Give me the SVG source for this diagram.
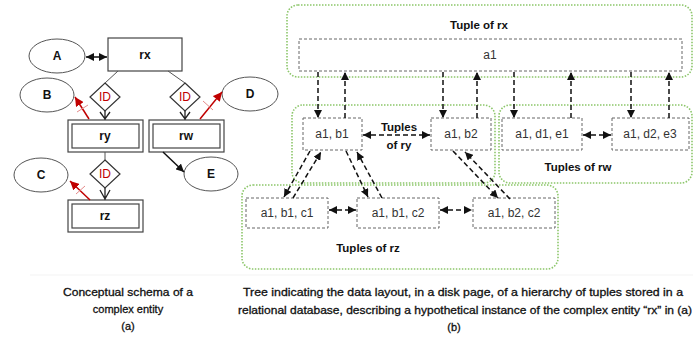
<svg xmlns="http://www.w3.org/2000/svg" width="693" height="337" viewBox="0 0 693 337">
<style>
text{font-family:"Liberation Sans",Arial,sans-serif;}
.lbl{font-size:12px;font-weight:bold;fill:#111;text-anchor:middle;}
.id{font-size:12px;fill:#c00000;text-anchor:middle;}
.tup{font-size:12px;fill:#333;text-anchor:middle;}
.cap{font-size:11px;fill:#111;stroke:#111;stroke-width:0.3;text-anchor:middle;}
.ell{fill:#fff;stroke:#555;stroke-width:1;}
.box{fill:#fff;stroke:#444;stroke-width:1.2;}
.dia{fill:#fff;stroke:#333;stroke-width:1.2;}
.thin{stroke:#555;stroke-width:1;fill:none;}
.grp{fill:none;stroke:#8cc66a;stroke-width:1.6;stroke-dasharray:1.5,1.5;}
.tbox{fill:#fff;stroke:#666;stroke-width:1;stroke-dasharray:3,2;}
.dash{stroke:#111;stroke-width:1.5;stroke-dasharray:5,3;fill:none;}
.red{stroke:#c00000;stroke-width:1.5;fill:none;}
.tick{stroke:#e58a8a;stroke-width:1;}
</style>
<defs>
<marker id="ah" viewBox="0 0 10 10" refX="10" refY="5" markerWidth="8" markerHeight="8" markerUnits="userSpaceOnUse" orient="auto-start-reverse"><path d="M0,0 L10,5 L0,10 z" fill="#111"/></marker>
<marker id="ahr" viewBox="0 0 10 10" refX="10" refY="5" markerWidth="9" markerHeight="9" markerUnits="userSpaceOnUse" orient="auto"><path d="M0,0 L10,5 L0,10 z" fill="#c00000"/></marker>
</defs>

<!-- Left ER diagram -->
<g id="A"><ellipse class="ell" cx="57" cy="56" rx="28" ry="17"/><text class="lbl" x="57" y="60">A</text></g>
<g id="rx"><rect class="box" x="108" y="38" width="74" height="33"/><text class="lbl" x="145" y="59">rx</text></g>
<g id="B"><ellipse class="ell" cx="47" cy="95" rx="27" ry="17"/><text class="lbl" x="47" y="99">B</text></g>
<g id="D"><ellipse class="ell" cx="250" cy="94" rx="28" ry="17"/><text class="lbl" x="250" y="98">D</text></g>
<g id="id1"><polygon class="dia" points="105,83 120,97 105,111 90,97"/><text class="id" x="105" y="101">ID</text></g>
<g id="id2"><polygon class="dia" points="185,83 200,97 185,111 170,97"/><text class="id" x="185" y="101">ID</text></g>
<g id="ry"><rect class="box" x="68" y="120" width="75" height="32"/><rect class="box" x="72" y="124" width="67" height="24"/><text class="lbl" x="105" y="140">ry</text></g>
<g id="rw"><rect class="box" x="149" y="120" width="75" height="32"/><rect class="box" x="153" y="124" width="67" height="24"/><text class="lbl" x="186" y="140">rw</text></g>
<g id="id3"><polygon class="dia" points="105,160 120,174 105,188 90,174"/><text class="id" x="105" y="178">ID</text></g>
<g id="C"><ellipse class="ell" cx="41" cy="175" rx="27" ry="17"/><text class="lbl" x="41" y="179">C</text></g>
<g id="E"><ellipse class="ell" cx="211" cy="174" rx="27" ry="17"/><text class="lbl" x="211" y="178">E</text></g>
<g id="rz"><rect class="box" x="68" y="200" width="75" height="32"/><rect class="box" x="72" y="204" width="67" height="24"/><text class="lbl" x="105" y="220">rz</text></g>

<g id="er-connectors">
<line x1="86" y1="57" x2="107" y2="57" stroke="#111" stroke-width="1.5" marker-start="url(#ah)" marker-end="url(#ah)"/>
<line class="thin" x1="118" y1="71" x2="105" y2="83"/>
<line class="thin" x1="168" y1="71" x2="185" y2="83"/>
<line class="thin" x1="105" y1="152" x2="105" y2="160"/>
<path d="M105,111 L105,120 M100,112 L105,119 L110,112" stroke="#222" stroke-width="1.3" fill="none"/>
<path d="M185,111 L185,120 M180,112 L185,119 L190,112" stroke="#222" stroke-width="1.3" fill="none"/>
<path d="M105,188 L105,200 M100,190 L105,199 L110,190" stroke="#222" stroke-width="1.3" fill="none"/>
<line class="red" x1="89" y1="119" x2="75" y2="97" marker-end="url(#ahr)"/>
<line class="tick" x1="77" y1="112" x2="88" y2="105"/>
<line class="red" x1="200" y1="119" x2="222" y2="92" marker-end="url(#ahr)"/>
<line class="tick" x1="203" y1="101" x2="213" y2="110"/>
<line class="red" x1="90" y1="200" x2="70" y2="181" marker-end="url(#ahr)"/>
<line class="tick" x1="76" y1="194" x2="85" y2="186"/>
<line x1="163" y1="152" x2="184" y2="172" stroke="#111" stroke-width="1.5" marker-end="url(#ah)"/>
</g>

<!-- Right tree -->
<g id="grp-rx"><rect class="grp" x="287" y="5" width="405" height="72" rx="11"/><text class="lbl" x="479" y="29" style="font-size:11.5px">Tuple of rx</text></g>
<g id="grp-ry"><rect class="grp" x="292" y="105" width="203" height="78" rx="11"/><text class="lbl" x="399" y="131" style="font-size:11.5px">Tuples</text><text class="lbl" x="399" y="149" style="font-size:11.5px">of ry</text></g>
<g id="grp-rw"><rect class="grp" x="499" y="105" width="193" height="78" rx="11"/><text class="lbl" x="578" y="171" style="font-size:11.5px">Tuples of rw</text></g>
<g id="grp-rz"><rect class="grp" x="242" y="185" width="316" height="84" rx="11"/><text class="lbl" x="368" y="252" style="font-size:11.5px">Tuples of rz</text></g>

<g id="t-a1"><rect class="tbox" x="299" y="39" width="383" height="32"/><text class="tup" x="490" y="59">a1</text></g>
<g id="t-a1b1"><rect class="tbox" x="303" y="118" width="59" height="32"/><text class="tup" x="332" y="138">a1, b1</text></g>
<g id="t-a1b2"><rect class="tbox" x="431" y="118" width="60" height="32"/><text class="tup" x="461" y="138">a1, b2</text></g>
<g id="t-a1d1e1"><rect class="tbox" x="502" y="118" width="80" height="32"/><text class="tup" x="542" y="138">a1, d1, e1</text></g>
<g id="t-a1d2e3"><rect class="tbox" x="612" y="118" width="77" height="32"/><text class="tup" x="650" y="138">a1, d2, e3</text></g>
<g id="t-a1b1c1"><rect class="tbox" x="246" y="198" width="82" height="30"/><text class="tup" x="287" y="217">a1, b1, c1</text></g>
<g id="t-a1b1c2"><rect class="tbox" x="357" y="198" width="82" height="30"/><text class="tup" x="398" y="217">a1, b1, c2</text></g>
<g id="t-a1b2c2"><rect class="tbox" x="473" y="198" width="82" height="30"/><text class="tup" x="514" y="217">a1, b2, c2</text></g>

<g id="tree-connectors">
<line class="dash" x1="318" y1="72" x2="318" y2="118" marker-end="url(#ah)"/>
<line class="dash" x1="345" y1="118" x2="345" y2="72" marker-end="url(#ah)"/>
<line class="dash" x1="443" y1="72" x2="443" y2="118" marker-end="url(#ah)"/>
<line class="dash" x1="477" y1="118" x2="477" y2="72" marker-end="url(#ah)"/>
<line class="dash" x1="514" y1="72" x2="514" y2="118" marker-end="url(#ah)"/>
<line class="dash" x1="571" y1="118" x2="571" y2="72" marker-end="url(#ah)"/>
<line class="dash" x1="631" y1="72" x2="631" y2="118" marker-end="url(#ah)"/>
<line class="dash" x1="669" y1="118" x2="669" y2="72" marker-end="url(#ah)"/>
<line class="dash" x1="363" y1="135" x2="430" y2="135" marker-start="url(#ah)" marker-end="url(#ah)"/>
<line class="dash" x1="583" y1="135" x2="611" y2="135" marker-start="url(#ah)" marker-end="url(#ah)"/>
<line class="dash" x1="329" y1="210" x2="356" y2="210" marker-start="url(#ah)" marker-end="url(#ah)"/>
<line class="dash" x1="440" y1="210" x2="472" y2="210" marker-start="url(#ah)" marker-end="url(#ah)"/>
<line class="dash" x1="310" y1="151" x2="284" y2="197" marker-end="url(#ah)"/>
<line class="dash" x1="293" y1="198" x2="321" y2="152" marker-end="url(#ah)"/>
<line class="dash" x1="346" y1="151" x2="368" y2="197" marker-end="url(#ah)"/>
<line class="dash" x1="382" y1="198" x2="357" y2="152" marker-end="url(#ah)"/>
<line class="dash" x1="453" y1="151" x2="498" y2="198" marker-end="url(#ah)"/>
<line class="dash" x1="510" y1="199" x2="465" y2="152" marker-end="url(#ah)"/>
</g>

<line x1="30" y1="275" x2="693" y2="275" stroke="#f3f3f3" stroke-width="1"/>
<g id="captions">
<text class="cap" x="128" y="296" textLength="130" lengthAdjust="spacingAndGlyphs">Conceptual schema of a</text>
<text class="cap" x="128" y="313">complex entity</text>
<text class="cap" x="128" y="330">(a)</text>
<text class="cap" x="463" y="296" textLength="440" lengthAdjust="spacingAndGlyphs">Tree indicating the data layout, in a disk page, of a hierarchy of tuples stored in a</text>
<text class="cap" x="465" y="314" textLength="454" lengthAdjust="spacingAndGlyphs">relational database, describing a hypothetical instance of the complex entity “rx” in (a)</text>
<text class="cap" x="454" y="331">(b)</text>
</g>
</svg>
